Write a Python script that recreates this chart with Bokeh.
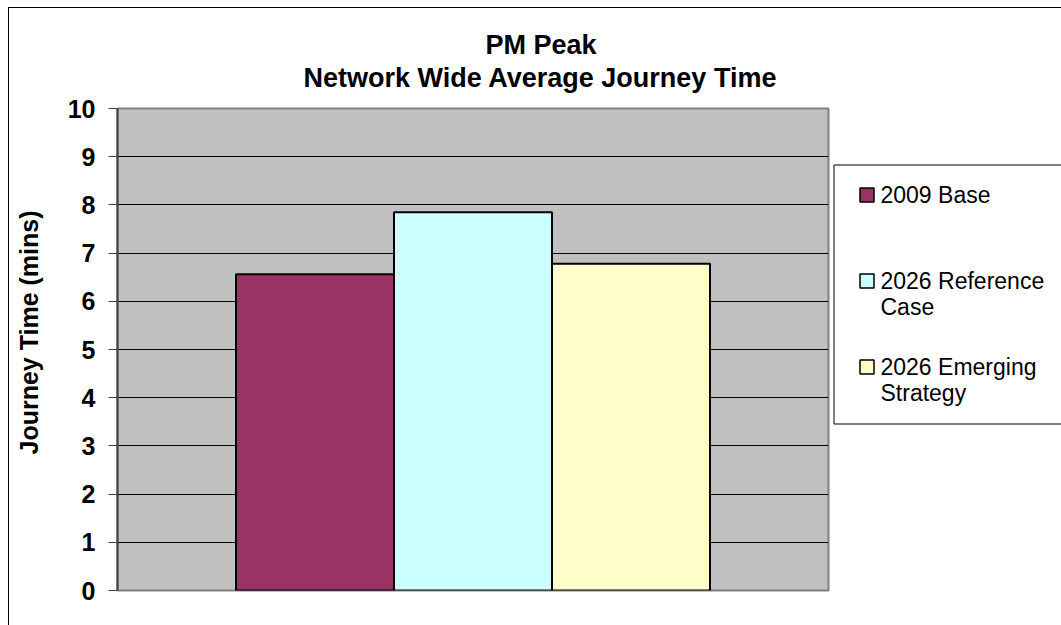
from bokeh.plotting import figure
from bokeh.layouts import row
from bokeh.models import ColumnDataSource, FactorRange, Range1d, Title, SingleIntervalTicker
from bokeh.core.properties import value
from bokeh.embed import file_html
from bokeh.resources import INLINE

title_lines = ["PM Peak", "Network Wide Average Journey Time"]
y_label = "Journey Time (mins)"
series = ["2009 Base", "2026 Reference\nCase", "2026 Emerging\nStrategy"]
values = [6.56, 7.85, 6.78]
colors = ["#993366", "#CCFFFF", "#FFFFCC"]

FONT = "Liberation Sans"

src = ColumnDataSource(dict(series=series, values=values, colors=colors))

# ---------------- main chart ----------------
p = figure(width=823, height=617, output_backend="svg", toolbar_location=None,
           x_range=FactorRange(factors=series, range_padding=0.5),
           y_range=(0, 10),
           min_border_left=108, min_border_top=100, min_border_right=4,
           min_border_bottom=35)

p.vbar(x="series", top="values", width=1.0, source=src, fill_color="colors",
       line_color="black", line_width=2)

p.background_fill_color = "#C0C0C0"
p.border_fill_color = "white"
p.outline_line_color = "#808080"
p.outline_line_width = 2

p.xaxis.visible = False
p.xgrid.visible = False
p.ygrid.grid_line_color = "black"
p.ygrid.grid_line_width = 1

ax = p.yaxis[0]
ax.ticker = SingleIntervalTicker(interval=1)
ax.minor_tick_line_color = None
ax.major_tick_out = 9
ax.major_tick_in = 0
ax.major_tick_line_color = "#404040"
ax.axis_line_color = "#404040"
ax.axis_line_width = 2
ax.major_label_standoff = 13
ax.major_label_text_font = FONT
ax.major_label_text_font_style = "bold"
ax.major_label_text_font_size = "25px"
ax.major_label_text_color = "black"

# chart title: the figure's own title is the outermost line; extra panels added
# later stack outward from the frame, so the blank spacer goes first
p.title.text = title_lines[0]
p.title.align = "left"
p.title.offset = 368
p.title.text_font = FONT
p.title.text_font_style = "bold"
p.title.text_font_size = "27px"
p.title.text_color = "black"
p.title.standoff = 0
p.add_layout(Title(text=" ", text_font_size="1px", standoff=12), "above")
t2 = Title(text=title_lines[1], align="left", offset=186, text_font=FONT,
           text_font_style="bold", text_font_size="27px", text_color="black", standoff=2)
p.add_layout(t2, "above")

# y axis title, kept apart from the tick labels by a blank spacer
p.add_layout(Title(text=" ", text_font_size="1px", standoff=19), "left")
yt = Title(text=y_label, align="left", offset=136, text_font=FONT, text_font_style="bold",
           text_font_size="25px", text_color="black", standoff=0)
p.add_layout(yt, "left")

# ---------------- legend panel (page pixel coordinates) ----------------
q = figure(width=229, height=617, output_backend="svg", toolbar_location=None,
           x_range=Range1d(832, 1061), y_range=Range1d(590, 108),
           min_border_left=0, min_border_right=0, min_border_top=100, min_border_bottom=35)
q.axis.visible = False
q.grid.visible = False
q.outline_line_color = None
q.background_fill_color = "white"
q.border_fill_color = "white"

q.quad(left=[833.5], right=[1200], top=[164.5], bottom=[423.5], fill_color="white",
       line_color="black", line_width=1)

idx = list(range(len(series)))
leg = ColumnDataSource(dict(
    gx=[866.5 for _ in idx],
    gy=[194.5 + 86 * i for i in idx],
    tx=[880 for _ in idx],
    ty=[194.5 + 86 * i - 13 for i in idx],
    label=series,
    colors=colors,
))
q.scatter(x="gx", y="gy", marker="square", size=14, fill_color="colors",
          line_color="black", line_width=1.5, source=leg)
q.text(x="tx", y="ty", text="label", source=leg, text_font=value(FONT),
       text_font_size="23px", text_color="black", text_baseline="top",
       text_align="left", text_line_height=1.0)

layout = row(p, q, styles={"margin-left": "8px", "margin-top": "7px",
                           "border-top": "1px solid black",
                           "border-left": "1px solid black"})

open("out.html", "w").write(file_html(layout, INLINE))
